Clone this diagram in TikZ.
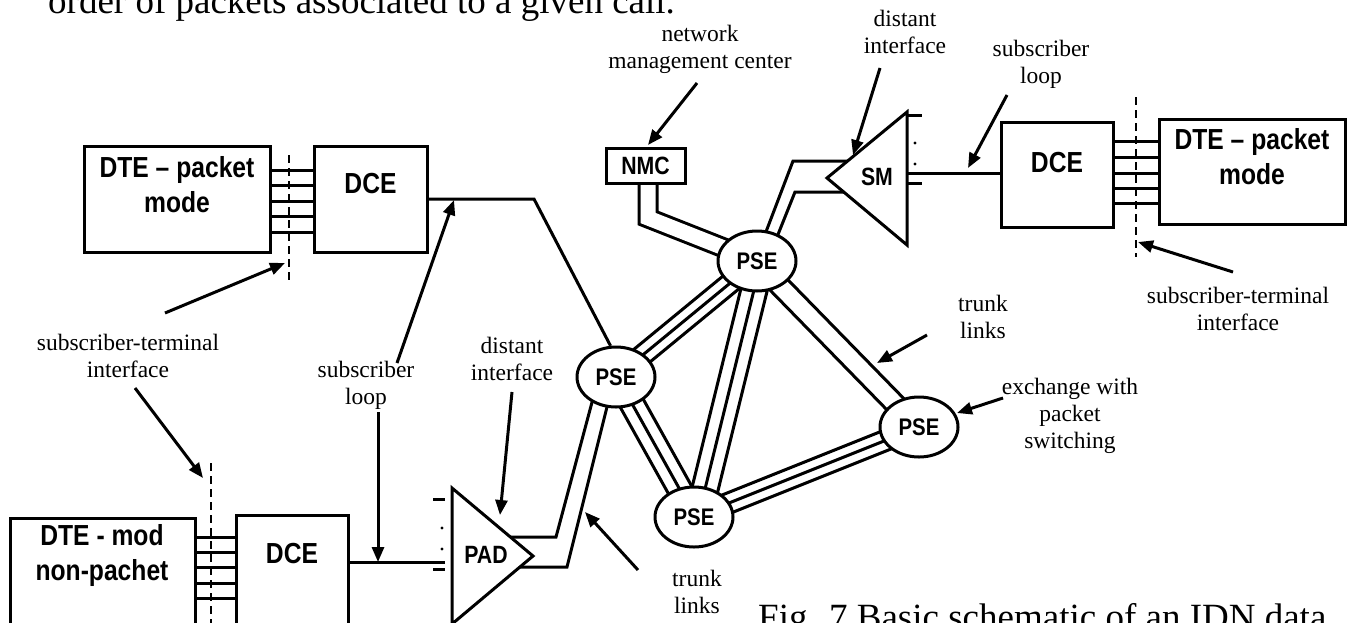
\documentclass[tikz,border=0pt]{standalone}
\usepackage{fontspec}
\setmainfont{Liberation Serif}
\newfontfamily\boxfont[FakeStretch=0.85]{Liberation Sans}
\usetikzlibrary{arrows.meta,calc,shapes.geometric,backgrounds}

\begin{document}
\begin{tikzpicture}[x=1pt,y=-1pt,
  wire/.style={line width=3pt},
  unitbox/.style={draw, line width=3pt, fill=white, inner sep=0pt},
  bigtext/.style={font=\boxfont\bfseries\fontsize{29}{35}\selectfont, align=center, inner sep=0pt, anchor=base},
  smalltext/.style={font=\boxfont\bfseries\fontsize{25}{30}\selectfont, inner sep=0pt},
  note/.style={font=\fontsize{23.5}{27}\selectfont, align=center, inner sep=0pt, anchor=base},
  pagetext/.style={font=\fontsize{37}{44}\selectfont, inner sep=0pt, anchor=base west},
  pointer/.style={line width=3pt, -{Triangle[length=15pt,width=12pt]}},
  iface/.style={line width=2pt, dash pattern=on 8pt off 5pt},
  pse/.style={ellipse, draw, line width=3pt, fill=white, minimum width=78pt,
    minimum height=60pt, inner sep=0pt, font=\boxfont\bfseries\fontsize{24}{28}\selectfont},
]
\useasboundingbox (0,0) rectangle (1354,622);
\clip (0,0) rectangle (1354,622);

% surrounding page text
\node[pagetext] (pagetop) at (48,13) {order of packets associated to a given call.};
\node[pagetext] (caption) at (758,629) {Fig. 7 Basic schematic of an IDN data};

% ---------- terminal equipment ----------
\node[unitbox, minimum width=186pt, minimum height=106pt] (dteA) at (177,199) {};
\node[unitbox, minimum width=113pt, minimum height=106pt] (dceA) at (370.5,199) {};
\node[bigtext] (dteAt) at (177,212) {DTE – packet\\mode};
\node[bigtext] (dceAt) at (370.5,193) {DCE};

\node[unitbox, minimum width=185pt, minimum height=142pt] (dteB) at (102.5,589) {};
\node[unitbox, minimum width=112pt, minimum height=145pt] (dceB) at (292,587.5) {};
\node[bigtext] (dteBt) at (102,580) {DTE - mod\\non-pachet};
\node[bigtext] (dceBt) at (292,563) {DCE};

\node[unitbox, minimum width=112pt, minimum height=105pt] (dceC) at (1057,174.5) {};
\node[unitbox, minimum width=186pt, minimum height=105pt] (dteC) at (1252,171.5) {};
\node[bigtext] (dceCt) at (1057,172) {DCE};
\node[bigtext] (dteCt) at (1252,184) {DTE – packet\\mode};

% interchange circuits
\foreach \yy in {170,185,201,216,232}
  \draw[wire] (dteA.east |- 0,\yy) -- (dceA.west |- 0,\yy);
\foreach \yy in {537,552,567,583,598}
  \draw[wire] (dteB.east |- 0,\yy) -- (dceB.west |- 0,\yy);
\foreach \yy in {141,157,173,188,203}
  \draw[wire] (dceC.east |- 0,\yy) -- (dteC.west |- 0,\yy);

% subscriber-terminal interfaces
\draw[iface] (289,155) -- (289,283);
\draw[iface] (211,463) -- (211,630);
\draw[iface] (1136,97) -- (1136,257);

% ---------- network ----------
\node[unitbox, minimum width=79pt, minimum height=35pt, smalltext] (nmc) at (645.5,165.5) {NMC};

\node[pse] (pseT) at (757,261) {PSE};
\node[pse] (pseL) at (616,377) {PSE};
\node[pse] (pseR) at (919,427) {PSE};
\node[pse] (pseB) at (694,517) {PSE};

% packet assembler / disassembler
\draw[wire, fill=white] (452,488) coordinate (padtop) -- (533,556) coordinate (padtip)
  -- (452,624) coordinate (padbot) -- cycle;
\node[smalltext, anchor=base] (pad) at (486,563) {PAD};
\draw[wire] (433,499) -- (445,499);
\draw[wire] (433,569) -- (445,569);
\fill (442,528) circle (1.6) (442,549) circle (1.6);

% subscriber multiplexer
\draw[wire, fill=white] (907,112) coordinate (smtop) -- (827,178) coordinate (smtip)
  -- (907,245) coordinate (smbot) -- cycle;
\node[smalltext, anchor=base] (sm) at (877,185) {SM};
\draw[wire] (907,115) -- (922,115);
\draw[wire] (907,183) -- (922,183);
\fill (915,143) circle (1.6) (915,164) circle (1.6);

% links laid under the units
\begin{pgfonlayer}{background}
  % subscriber loops
  \draw[wire] (dceA.east) -- (534,199) -- (pseL.100);
  \draw[wire] (dceB.east |- 0,562) -- (445,562);
  \draw[wire] (907,173) -- (907,173 -| dceC.west);
  % access links
  \draw[wire, double, double distance=15pt] (648,170) -- (648,218) -- (pseT.center);
  \draw[wire] (500,537) -- (556,537) -- (595,391);
  \draw[wire] (500,567) -- (567,567) -- (610,395);
  \draw[wire] (855,161) -- (793,161) -- (764,237);
  \draw[wire] (855,192) -- (795,192) -- (775,242);
  % trunk links between exchanges
  \foreach \off in {-10,0,10}
    \draw[wire] ($(pseT)!\off pt!90:(pseL)$) -- ($(pseL)!\off pt!-90:(pseT)$);
  \foreach \off in {-9,4,17}
    \draw[wire] ($(pseT)!\off pt!90:(pseB)$) -- ($(pseB)!\off pt!-90:(pseT)$);
  \foreach \off in {-11,9}
    \draw[wire] ($(pseT)!\off pt!90:(pseR)$) -- ($(pseR)!\off pt!-90:(pseT)$);
  \foreach \off in {-11,1,13}
    \draw[wire] ($(pseL)!\off pt!90:(pseB)$) -- ($(pseB)!\off pt!-90:(pseL)$);
  \foreach \off in {-10,0,10}
    \draw[wire] ($(pseB)!\off pt!90:(pseR)$) -- ($(pseR)!\off pt!-90:(pseB)$);
\end{pgfonlayer}

% ---------- annotations (anchored on the baseline of the last line) ----------
\node[note] (lblSTa) at (128,377) {subscriber-terminal\\interface};
\node[note] (lblSLa) at (366,404) {subscriber\\loop};
\node[note] (lblDIa) at (512,380) {distant\\interface};
\node[note] (lblTLa) at (697,613) {trunk\\links};
\node[note] (lblNMC) at (700,68) {network\\management center};
\node[note] (lblDIb) at (905,53) {distant\\interface};
\node[note] (lblSLb) at (1041,83) {subscriber\\loop};
\node[note] (lblSTb) at (1238,330) {subscriber-terminal\\interface};
\node[note] (lblTLb) at (983,338) {trunk\\links};
\node[note] (lblEX) at (1070,448) {exchange with\\packet\\switching};

\coordinate (a1) at (165,313);
\coordinate (a2) at (135,388);
\coordinate (a3) at (397,363);
\coordinate (a4) at (378,412);
\coordinate (a5) at (512,392);
\coordinate (a6) at (638,570);
\coordinate (a7) at (697,83);
\coordinate (a8) at (880,68);
\coordinate (a9) at (1007,95);
\coordinate (a10) at (1233,272);
\coordinate (a11) at (927,335);
\coordinate (a12) at (1003,398);

\draw[pointer] (a1) -- (285,263);
\draw[pointer] (a2) -- (203,478);
\draw[pointer] (a3) -- (454,200);
\draw[pointer] (a4) -- (378,562);
\draw[pointer] (a5) -- (500,515);
\draw[pointer] (a6) -- (585,512);
\draw[pointer] (a7) -- (648,145);
\draw[pointer] (a8) -- (853,155);
\draw[pointer] (a9) -- (968,168);
\draw[pointer] (a10) -- (1138,242);
\draw[pointer] (a11) -- (877,363);
\draw[pointer] (a12) -- (957,413);
\end{tikzpicture}
\end{document}
